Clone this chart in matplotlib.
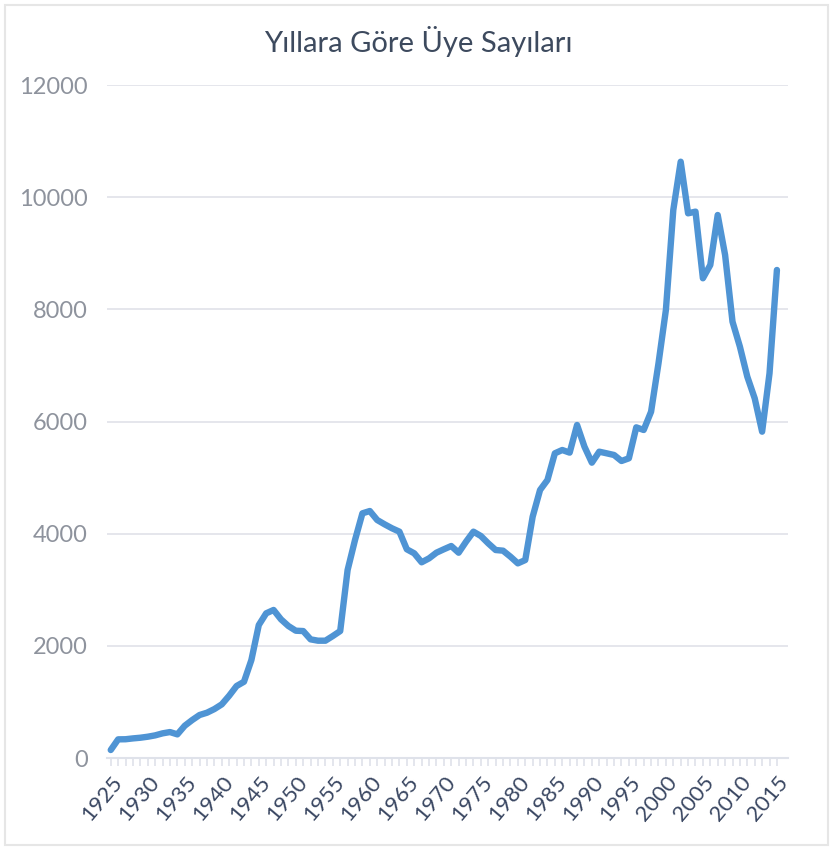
import numpy as np
import matplotlib
matplotlib.use("Agg")
import matplotlib.pyplot as plt
from matplotlib.patches import Rectangle

years = list(range(1925, 2016))
members = [
    143, 333, 335, 350, 362, 380, 404, 440, 463, 422,    # 1925-1934
    576, 677, 767, 808, 873, 957, 1111, 1284, 1360, 1747,  # 1935-1944
    2371, 2580, 2640, 2473, 2354, 2270, 2264, 2116, 2092, 2092,  # 1945-1954
    2175, 2264, 3352, 3887, 4363, 4404, 4244, 4167, 4096, 4036,  # 1955-1964
    3722, 3650, 3490, 3560, 3661, 3722, 3780, 3661, 3857, 4036,  # 1965-1974
    3959, 3828, 3709, 3697, 3590, 3471, 3530, 4302, 4779, 4957,  # 1975-1984
    5433, 5492, 5445, 5938, 5551, 5266, 5462, 5433, 5403, 5296,  # 1985-1994
    5344, 5896, 5849, 6175, 7037, 7988, 9771, 10632, 9712, 9742,  # 1995-2004
    8554, 8791, 9682, 8969, 7780, 7334, 6799, 6413, 5819, 6859,  # 2005-2014
    8702,                                                  # 2015
]
y_ticks = [0, 2000, 4000, 6000, 8000, 10000, 12000]
x_ticks = list(range(1925, 2016, 5))
title = "Yıllara Göre Üye Sayıları"

plt.rcParams['font.family'] = ['Lato', 'DejaVu Sans']

fig = plt.figure(figsize=(8.33, 8.5), dpi=100)
fig.patch.set_facecolor("white")
# thin frame around the whole card
fig.patches.append(Rectangle((0.006, 0.006), 0.988, 0.988, transform=fig.transFigure,
                             fill=False, edgecolor="#e6e6e6", linewidth=1.5))

ax = fig.add_axes([0.1285, 0.1082, 0.8175, 0.7918])
ax.plot(years, members, color="#4f94d4", linewidth=4.6, solid_joinstyle="round",
        solid_capstyle="round", clip_on=False, zorder=3)

ax.set_xlim(1924.5, 2016.5)
ax.set_ylim(0, 12000)

ax.set_yticks(y_ticks)
ax.set_yticklabels([str(v) for v in y_ticks], fontsize=17, color="#8e939d")
ax.tick_params(axis="y", length=0, pad=14)
ax.grid(axis="y", color="#e3e4ea", linewidth=1.3)
ax.set_axisbelow(True)

ax.set_xticks(years, minor=True)
ax.set_xticks(x_ticks)
ax.set_xticklabels([str(v) for v in x_ticks], rotation=50, ha="right", rotation_mode="anchor",
                   fontsize=16, color="#3a4762")
ax.tick_params(axis="x", which="both", length=6, width=1.2, color="#dfe2ea", pad=4)

for side in ["top", "right", "left"]:
    ax.spines[side].set_visible(False)
ax.spines["bottom"].set_color("#dfe2ea")
ax.spines["bottom"].set_linewidth(1.5)

fig.text(0.502, 0.951, title, ha="center", va="center", fontsize=21, color="#3d4a5e")

fig.savefig("out.png", dpi=100)
